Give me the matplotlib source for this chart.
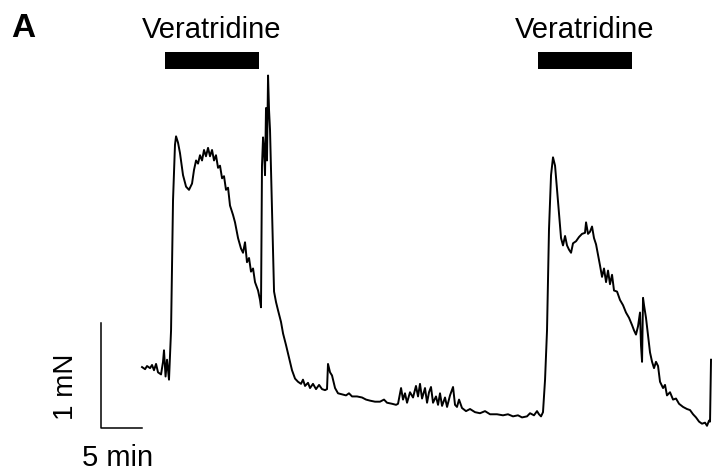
import numpy as np
import matplotlib
matplotlib.use("Agg")
import matplotlib.pyplot as plt

plt.rcParams['font.family'] = ['Liberation Sans', 'DejaVu Sans']

# Contraction trace: time (min) and force (mN), read from the recording
time_min = [
    0.00, 0.37, 0.61, 0.98, 1.22, 1.46, 1.71, 1.95, 2.32, 2.56, 2.68, 2.87, 3.05, 3.29, 3.54,
    3.78, 4.02, 4.15, 4.39, 4.63, 5.00, 5.37, 5.73, 6.10, 6.34, 6.59, 6.83, 7.07, 7.32, 7.56,
    7.80, 8.05, 8.29, 8.54, 8.78, 9.02, 9.27, 9.51, 9.76, 10.00, 10.24, 10.49, 10.73, 11.10, 11.34,
    11.71, 12.07, 12.32, 12.56, 12.80, 13.05, 13.29, 13.54, 13.78, 14.15, 14.39, 14.51, 14.63, 14.76, 14.88,
    15.00, 15.12, 15.24, 15.37, 15.49, 15.61, 15.85, 16.10, 16.34, 16.59, 16.95, 17.20, 17.56, 17.80, 18.05,
    18.29, 18.66, 19.02, 19.39, 19.63, 19.88, 20.24, 20.49, 20.85, 21.22, 21.59, 21.95, 22.32, 22.56, 22.68,
    22.93, 23.17, 23.54, 23.90, 24.39, 24.88, 25.24, 25.61, 26.22, 26.83, 27.32, 27.80, 28.41, 29.02, 29.51,
    29.88, 30.49, 30.98, 31.22, 31.59, 31.83, 32.07, 32.32, 32.68, 33.05, 33.41, 33.66, 33.90, 34.15, 34.51,
    34.76, 35.00, 35.24, 35.49, 35.85, 36.10, 36.34, 36.59, 36.95, 37.20, 37.56, 37.93, 38.17, 38.41, 38.66,
    39.02, 39.51, 40.00, 40.61, 41.22, 41.83, 42.44, 43.29, 44.02, 44.63, 45.24, 45.85, 46.34, 46.95, 47.32,
    47.80, 48.17, 48.41, 48.66, 48.90, 49.15, 49.39, 49.63, 49.88, 50.12, 50.37, 50.61, 50.85, 51.10, 51.34,
    51.59, 51.83, 52.07, 52.32, 52.56, 52.93, 53.29, 53.66, 54.02, 54.15, 54.39, 54.63, 54.88, 55.12, 55.37,
    55.61, 55.85, 56.10, 56.34, 56.59, 56.83, 57.07, 57.32, 57.56, 57.93, 58.29, 58.66, 59.02, 59.39, 59.76,
    60.00, 60.24, 60.49, 60.73, 60.85, 60.98, 61.10, 61.22, 61.46, 61.71, 61.95, 62.20, 62.44, 62.68, 62.93,
    63.17, 63.54, 63.78, 64.02, 64.39, 64.76, 65.12, 65.49, 65.98, 66.46, 66.83, 67.20, 67.56, 67.93, 68.29,
    68.66, 68.90, 69.15, 69.27, 69.39,
]
force_mN = [
    0.58, 0.56, 0.59, 0.57, 0.60, 0.55, 0.61, 0.53, 0.51, 0.63, 0.74, 0.49, 0.65, 0.46, 0.93,
    2.17, 2.70, 2.78, 2.72, 2.62, 2.41, 2.30, 2.27, 2.33, 2.46, 2.55, 2.52, 2.60, 2.55, 2.65,
    2.59, 2.67, 2.59, 2.65, 2.55, 2.60, 2.48, 2.50, 2.38, 2.40, 2.27, 2.29, 2.12, 2.03, 1.96,
    1.81, 1.71, 1.67, 1.77, 1.58, 1.62, 1.49, 1.52, 1.39, 1.31, 1.22, 1.15, 2.50, 2.77, 2.65,
    2.41, 3.05, 2.55, 3.36, 3.03, 2.84, 2.08, 1.30, 1.20, 1.12, 1.01, 0.90, 0.79, 0.71, 0.63,
    0.55, 0.47, 0.44, 0.42, 0.46, 0.40, 0.43, 0.38, 0.42, 0.37, 0.41, 0.37, 0.36, 0.37, 0.61,
    0.53, 0.50, 0.38, 0.33, 0.32, 0.31, 0.33, 0.30, 0.30, 0.29, 0.27, 0.26, 0.25, 0.25, 0.27,
    0.24, 0.23, 0.22, 0.23, 0.38, 0.27, 0.33, 0.24, 0.34, 0.29, 0.40, 0.30, 0.42, 0.28, 0.38,
    0.24, 0.34, 0.39, 0.24, 0.30, 0.22, 0.33, 0.21, 0.29, 0.20, 0.31, 0.39, 0.22, 0.20, 0.27,
    0.19, 0.16, 0.18, 0.15, 0.14, 0.16, 0.13, 0.13, 0.12, 0.13, 0.11, 0.12, 0.10, 0.11, 0.14,
    0.12, 0.16, 0.13, 0.11, 0.15, 0.46, 0.93, 1.89, 2.41, 2.58, 2.50, 2.27, 2.03, 1.81, 1.74,
    1.83, 1.74, 1.70, 1.67, 1.76, 1.78, 1.82, 1.85, 1.86, 1.96, 1.85, 1.87, 1.92, 1.81, 1.75,
    1.65, 1.55, 1.44, 1.52, 1.39, 1.50, 1.37, 1.46, 1.31, 1.30, 1.22, 1.17, 1.10, 1.05, 0.98,
    0.93, 0.89, 0.97, 1.10, 0.79, 0.63, 1.24, 1.17, 1.05, 0.88, 0.72, 0.63, 0.57, 0.63, 0.59,
    0.44, 0.38, 0.41, 0.31, 0.34, 0.27, 0.28, 0.23, 0.20, 0.18, 0.17, 0.13, 0.10, 0.06, 0.04,
    0.05, 0.02, 0.07, 0.06, 0.65,
]

# Veratridine application periods (start, end) in min
drug_label = "Veratridine"
drug_on = [2.80, 48.29]
drug_off = [14.27, 59.76]

# Scale bars
scale_time = 5    # min
scale_force = 1   # mN

fig = plt.figure(figsize=(7.12, 4.73), dpi=100)
ax = fig.add_axes([0, 0, 1, 1])
ax.set_xlim(-17.32, 69.51)
ax.set_ylim(-0.43, 4.08)
ax.axis('off')

ax.plot(time_min, force_mN, color='black', linewidth=1.4)

for start, end in zip(drug_on, drug_off):
    ax.broken_barh([(start, end - start)], (3.42, 0.16), facecolors='black')
    ax.text((start + end) / 2, 3.79, drug_label, ha='center', va='center', fontsize=21)

# scale bars in the lower left
ax.plot([-scale_time, -scale_time, 0], [scale_force, 0, 0], color='black', linewidth=1.1)
ax.text(-9.3, 0.39, "1 mN", rotation=90, ha='center', va='center', fontsize=20)
ax.text(-2.93, -0.29, "5 min", ha='center', va='center', fontsize=21)

fig.text(0.032, 0.94, "A", ha='center', va='center', fontsize=24, fontweight='bold')

fig.savefig("out.png", dpi=100)
